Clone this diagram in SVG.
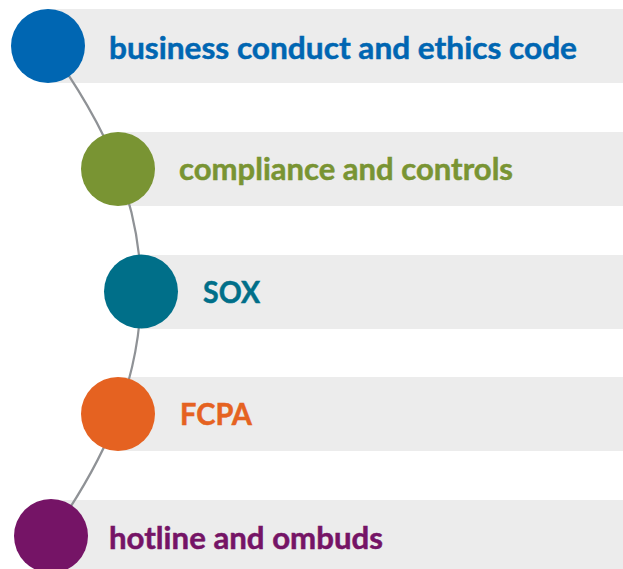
<svg xmlns="http://www.w3.org/2000/svg" width="623" height="569" viewBox="0 0 623 569">
<style>
.bar{fill:#ececec}
.lbl{font-family:Lato,"Open Sans","Liberation Sans",sans-serif;font-weight:700;font-size:30.5px;stroke-width:0.5px}
.conn{fill:none;stroke:#8f9296;stroke-width:2.2}
</style>
<rect width="623" height="569" fill="#ffffff"/>
<g id="bars">
<rect class="bar" x="48" y="9" width="575" height="74"/>
<rect class="bar" x="118" y="132" width="505" height="74"/>
<rect class="bar" x="141" y="255" width="482" height="74"/>
<rect class="bar" x="118" y="377" width="505" height="74"/>
<rect class="bar" x="51" y="500" width="572" height="74"/>
</g>
<g id="connectors">
<path class="conn" d="M48,46 C75,82 102.5,128 118,169 C133.5,210 141,250 141,291 C141,332 133,373 118,414 C103,455 77,499 51,536"/>
</g>
<g id="node1">
<circle cx="48" cy="46" r="37" fill="#0066b2"/>
<text class="lbl" x="109" y="58.5" fill="#0066b2" stroke="#0066b2" textLength="468" lengthAdjust="spacingAndGlyphs">business conduct and ethics code</text>
</g>
<g id="node2">
<circle cx="118" cy="169" r="37" fill="#799433"/>
<text class="lbl" x="179" y="180" fill="#799433" stroke="#799433" textLength="334" lengthAdjust="spacingAndGlyphs">compliance and controls</text>
</g>
<g id="node3">
<circle cx="141" cy="291.5" r="37" fill="#006f89"/>
<text class="lbl" x="203" y="303" fill="#006f89" stroke="#006f89" textLength="57" lengthAdjust="spacingAndGlyphs">SOX</text>
</g>
<g id="node4">
<circle cx="118" cy="414" r="37" fill="#e56221"/>
<text class="lbl" x="180" y="425" fill="#e56221" stroke="#e56221" textLength="72" lengthAdjust="spacingAndGlyphs">FCPA</text>
</g>
<g id="node5">
<circle cx="51" cy="536" r="37" fill="#751466"/>
<text class="lbl" x="109" y="548.5" fill="#751466" stroke="#751466" textLength="274" lengthAdjust="spacingAndGlyphs">hotline and ombuds</text>
</g>
</svg>
